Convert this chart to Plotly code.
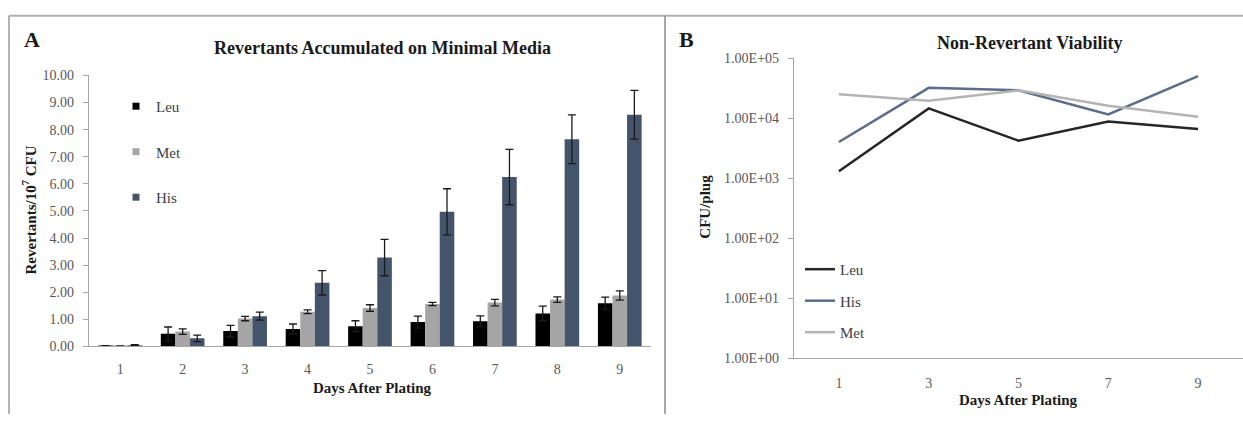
import plotly.graph_objects as go

# ---- Panel A: revertants per 10^7 CFU (mean ± error) ----
days_a = ["1", "2", "3", "4", "5", "6", "7", "8", "9"]
leu_mean = [0.02, 0.47, 0.57, 0.65, 0.75, 0.90, 0.93, 1.22, 1.60]
leu_err = [0.01, 0.25, 0.21, 0.18, 0.20, 0.22, 0.20, 0.27, 0.22]
met_mean = [0.01, 0.55, 1.03, 1.28, 1.42, 1.57, 1.62, 1.73, 1.88]
met_err = [0.01, 0.10, 0.08, 0.07, 0.12, 0.06, 0.12, 0.10, 0.17]
his_mean = [0.05, 0.30, 1.12, 2.35, 3.28, 4.97, 6.25, 7.65, 8.55]
his_err = [0.02, 0.12, 0.15, 0.45, 0.67, 0.85, 1.02, 0.90, 0.90]
a_ticks = [0, 1, 2, 3, 4, 5, 6, 7, 8, 9, 10]

# ---- Panel B: non-revertant viability (CFU/plug, log scale) ----
days_b = ["1", "3", "5", "7", "9"]
leu_cfu = [1300, 14500, 4200, 8800, 6600]
his_cfu = [4000, 32000, 29000, 11500, 50000]
met_cfu = [25000, 19500, 29000, 16000, 10500]
b_ticks = [1, 10, 100, 1000, 10000, 100000]
b_tick_text = ["1.00E+00", "1.00E+01", "1.00E+02", "1.00E+03", "1.00E+04", "1.00E+05"]

W, H = 1243, 422
SERIF = "Liberation Serif"
LEU_C, MET_C, HIS_C = "#000000", "#a5a5a5", "#44546a"
LEU_L, HIS_L, MET_L = "#262626", "#5b6d89", "#b4b4b4"
AXIS_C = "#a6a6a6"
TICK_FONT = dict(family=SERIF, size=14, color="#595959")


def px(x):
    return x / W


def py(y):
    return 1 - y / H


fig = go.Figure()

err_style = dict(type="data", visible=True, color="#1a1a1a", thickness=1.3, width=4)
for name, vals, errs, col in [
    ("Leu", leu_mean, leu_err, LEU_C),
    ("Met", met_mean, met_err, MET_C),
    ("His", his_mean, his_err, HIS_C),
]:
    fig.add_trace(go.Bar(
        x=days_a, y=vals, name=name, marker=dict(color=col, line=dict(width=0)),
        error_y=dict(array=errs, **err_style), xaxis="x", yaxis="y",
        showlegend=False,
    ))
    # small square legend keys
    fig.add_trace(go.Scatter(
        x=[None], y=[None], mode="markers", name=name, legend="legend",
        legendgroup=name,
        marker=dict(symbol="square", size=7, color=col), xaxis="x", yaxis="y",
    ))

for name, vals, col in [
    ("Leu", leu_cfu, LEU_L),
    ("His", his_cfu, HIS_L),
    ("Met", met_cfu, MET_L),
]:
    fig.add_trace(go.Scatter(
        x=days_b, y=vals, name=name, mode="lines", legend="legend2",
        legendgroup="b" + name,
        line=dict(color=col, width=2.5), xaxis="x2", yaxis="y2",
    ))

axis_common = dict(showgrid=False, zeroline=False, showline=True, linecolor=AXIS_C,
                   linewidth=1.3, tickfont=TICK_FONT)

fig.update_layout(
    width=W, height=H,
    margin=dict(l=0, r=0, t=0, b=0),
    paper_bgcolor="white", plot_bgcolor="white",
    barmode="group", bargap=0.3, bargroupgap=0,
    xaxis=dict(domain=[px(89), px(651)], anchor="y", type="category",
               categoryorder="array", categoryarray=days_a, range=[-0.5, 8.5],
               ticks="", ticklabelstandoff=10, **axis_common),
    yaxis=dict(domain=[py(352), py(71)], anchor="x", range=[0, 10],
               tickvals=a_ticks, tickformat=".2f", ticks="outside",
               ticklen=5, tickcolor=AXIS_C, ticklabelstandoff=6, **axis_common),
    xaxis2=dict(domain=[px(794), 1.0], anchor="y2", type="category",
                categoryorder="array", categoryarray=days_b, range=[-0.5, 4.5],
                ticks="", ticklabelstandoff=12, **axis_common),
    yaxis2=dict(domain=[py(364), py(53)], anchor="x2", type="log", range=[0, 5],
                tickvals=b_ticks, ticktext=b_tick_text, ticks="outside",
                ticklen=5, tickcolor=AXIS_C, ticklabelstandoff=6, **axis_common),
    legend=dict(x=px(116), y=py(86), xanchor="left", yanchor="top",
                bgcolor="rgba(0,0,0,0)", tracegroupgap=23,
                font=dict(family=SERIF, size=15, color="#404040")),
    legend2=dict(x=px(800), y=py(255), xanchor="left", yanchor="top",
                 bgcolor="rgba(0,0,0,0)", tracegroupgap=9,
                 font=dict(family=SERIF, size=15, color="#404040")),
)

# panel frame
frame = dict(type="line", xref="paper", yref="paper")
fig.add_shape(x0=px(9), x1=1, y0=py(9), y1=py(9), line=dict(color="#b0b0b0", width=2), **frame)
fig.add_shape(x0=px(9), x1=px(9), y0=py(9), y1=0, line=dict(color="#9a9a9a", width=1.5), **frame)
fig.add_shape(x0=px(665), x1=px(665), y0=py(9), y1=0, line=dict(color="#8a8a8a", width=1.5), **frame)

# titles and labels
def note(text, x, y, size, angle=0, bold=True, color="#1a1a1a"):
    fig.add_annotation(text=f"<b>{text}</b>" if bold else text, x=px(x), y=py(y),
                       xref="paper", yref="paper", showarrow=False, textangle=angle,
                       xanchor="center", yanchor="middle",
                       font=dict(family=SERIF, size=size, color=color))


note("A", 32, 34, 22)
note("B", 686, 34, 22)
note("Revertants Accumulated on Minimal Media", 382, 42, 18)
note("Non-Revertant Viability", 1029, 37, 18)
note("Revertants/10<sup>7</sup> CFU", 29, 211, 15, angle=-90)
note("CFU/plug", 705, 207, 15, angle=-90)
note("Days After Plating", 372, 395, 15)
note("Days After Plating", 1018, 407, 15)

fig.write_html("out.html")
